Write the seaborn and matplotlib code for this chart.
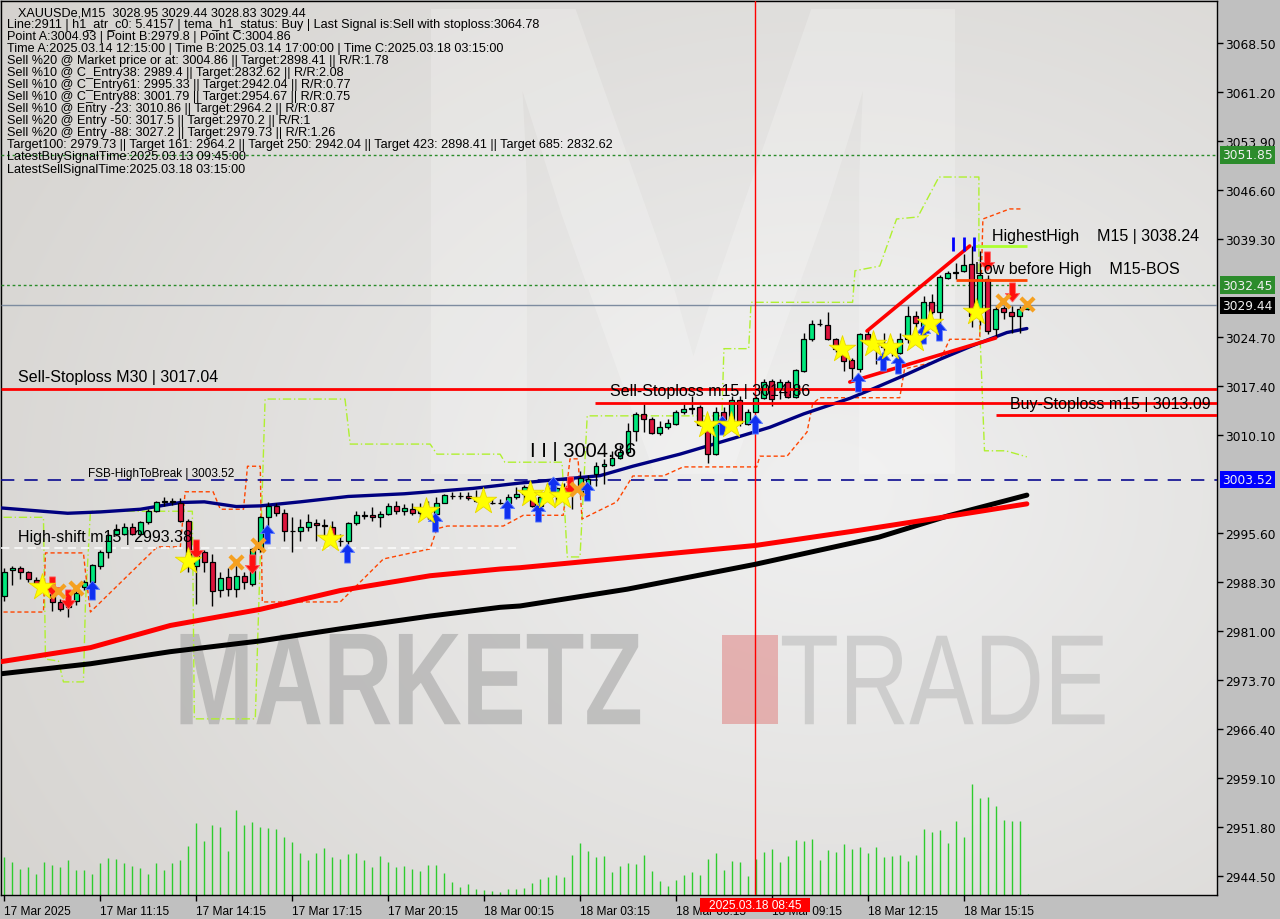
import numpy as np
import matplotlib
matplotlib.use('Agg')
import matplotlib.pyplot as plt
import seaborn as sns
from matplotlib.path import Path
from matplotlib.patches import PathPatch, Rectangle
from matplotlib.textpath import TextPath
from matplotlib.font_manager import FontProperties
from matplotlib.transforms import Affine2D, blended_transform_factory

# ---------------------------
# Candles (XAUUSDe M15), index 0 = 17 Mar 08:15
# ---------------------------
opens = [2986.2, 2990.0, 2990.35, 2989.7, 2988.6, 2987.8, 2986.5, 2985.3, 2984.5, 2985.5,
         2987.5, 2988.3, 2990.7, 2992.7, 2995.4, 2995.4, 2996.5, 2995.4, 2997.2, 2998.9,
         3000.2, 3000.3, 3000.1, 2997.4, 2990.6, 2992.8, 2991.2, 2987.1, 2989.0, 2987.3,
         2989.1, 2987.9, 2993.2, 2997.9, 2999.6, 2998.5, 2995.9, 2995.8, 2996.4, 2997.0,
         2996.7, 2996.4, 2994.4, 2994.4, 2997.0, 2998.1, 2998.2, 2997.9, 2998.4, 2999.6,
         2998.8, 2999.2, 2998.6, 2999.1, 2998.4, 3000.1, 3001.1, 3001.1, 3001.0, 3000.7,
         3000.4, 3000.0, 3000.0, 3000.1, 3000.9, 3001.4, 3000.7, 2999.6, 3001.6, 3001.6,
         3002.1, 3001.5, 3001.6, 3002.5, 3004.3, 3005.6, 3005.7, 3006.8, 3007.6, 3010.8,
         3013.3, 3012.6, 3010.4, 3011.3, 3011.8, 3013.5, 3014.0, 3014.3, 3011.3, 3007.3,
         3013.5, 3012.0, 3015.3, 3011.8, 3013.6, 3015.6, 3018.2, 3017.0, 3018.0, 3015.8,
         3019.7, 3024.4, 3026.7, 3026.5, 3024.4, 3022.2, 3021.3, 3020.0, 3025.2, 3024.0,
         3023.2, 3022.7, 3022.4, 3024.4, 3027.8, 3025.9, 3029.9, 3028.4, 3033.5, 3034.4,
         3034.6, 3035.6, 3028.5, 3033.4, 3025.9, 3029.0, 3028.5, 3027.8, 3028.95]
highs = [2990.3, 2990.7, 2990.6, 2989.95, 2988.96, 2988.2, 2986.7, 2985.7, 2986.0, 2987.2,
         2988.5, 2991.0, 2993.1, 2995.6, 2996.9, 2997.1, 2997.1, 2997.4, 2999.1, 3000.4,
         3000.9, 3000.8, 3000.8, 2997.6, 2993.4, 2993.1, 2992.4, 2989.7, 2990.4, 2990.7,
         2989.7, 2993.4, 2998.1, 3000.2, 3000.1, 2999.2, 2997.9, 2997.6, 2998.4, 2997.6,
         2997.6, 2997.3, 2995.4, 2997.2, 2998.9, 2998.9, 2999.4, 2998.9, 3000.1, 3000.4,
         2999.9, 3000.0, 3000.0, 3000.4, 3000.9, 3001.3, 3001.6, 3001.6, 3001.7, 3001.9,
         3001.0, 3000.6, 3000.6, 3001.4, 3002.4, 3002.7, 3001.5, 3002.0, 3003.0, 3002.6,
         3003.0, 3003.4, 3004.86, 3004.2, 3006.1, 3006.6, 3007.8, 3008.6, 3012.0, 3013.5,
         3014.8, 3012.8, 3012.3, 3012.5, 3013.8, 3014.8, 3016.0, 3014.6, 3013.0, 3014.3,
         3014.3, 3016.0, 3016.0, 3014.0, 3016.0, 3018.5, 3018.5, 3018.5, 3018.3, 3019.9,
         3025.4, 3027.2, 3027.4, 3028.4, 3024.6, 3022.9, 3021.6, 3025.4, 3025.9, 3024.2,
         3025.4, 3024.4, 3025.4, 3029.4, 3028.6, 3030.9, 3031.1, 3034.0, 3034.6, 3035.8,
         3037.1, 3038.24, 3037.5, 3033.9, 3029.4, 3029.4, 3029.4, 3029.3, 3029.44]
lows = [2985.5, 2987.8, 2988.7, 2988.3, 2987.5, 2986.8, 2984.0, 2984.0, 2983.0, 2984.9,
        2987.1, 2987.8, 2990.2, 2991.8, 2995.2, 2995.3, 2995.3, 2995.2, 2996.9, 2998.7,
        2999.6, 2999.8, 2997.2, 2989.7, 2985.0, 2989.7, 2984.7, 2986.0, 2986.2, 2986.0,
        2987.2, 2987.7, 2992.7, 2995.9, 2998.1, 2994.4, 2992.8, 2994.4, 2995.9, 2994.4,
        2994.7, 2994.0, 2993.7, 2993.9, 2996.8, 2997.6, 2997.4, 2996.5, 2998.2, 2998.4,
        2998.2, 2998.2, 2998.0, 2997.6, 2998.2, 3000.0, 3000.6, 3000.6, 3000.5, 3000.2,
        2999.9, 2999.9, 2999.9, 2999.4, 3000.6, 3000.2, 2999.4, 2999.0, 3001.0, 3000.0,
        3000.2, 2999.1, 3001.2, 3000.9, 3002.6, 3002.9, 3005.5, 3006.6, 3007.3, 3009.3,
        3010.6, 3010.3, 3010.1, 3011.0, 3011.6, 3013.3, 3013.3, 3011.5, 3006.0, 3007.1,
        3011.5, 3011.6, 3011.5, 3011.6, 3013.5, 3015.5, 3014.5, 3015.5, 3015.6, 3015.6,
        3019.5, 3024.2, 3026.4, 3024.3, 3022.5, 3019.7, 3018.0, 3019.6, 3023.7, 3020.7,
        3022.4, 3021.9, 3022.2, 3023.9, 3026.2, 3025.7, 3028.1, 3026.2, 3033.3, 3033.4,
        3034.4, 3026.2, 3026.5, 3025.2, 3024.7, 3027.4, 3025.4, 3025.4, 3028.83]
closes = [2989.8, 2990.3, 2989.7, 2988.7, 2987.8, 2987.0, 2985.3, 2984.25, 2985.5, 2986.7,
          2988.3, 2990.8, 2992.7, 2995.3, 2996.2, 2996.5, 2995.4, 2997.2, 2998.9, 3000.2,
          3000.3, 3000.2, 2997.4, 2991.2, 2992.7, 2991.2, 2987.0, 2988.8, 2987.3, 2989.1,
          2988.2, 2993.2, 2997.9, 2999.6, 2998.5, 2995.8, 2995.9, 2996.4, 2997.2, 2996.7,
          2996.6, 2995.0, 2994.4, 2997.0, 2998.2, 2998.2, 2997.9, 2998.4, 2999.6, 2998.8,
          2999.3, 2998.6, 2999.1, 2998.9, 3000.1, 3001.2, 3001.1, 3001.0, 3000.7, 3000.4,
          3000.6, 3000.0, 3000.0, 3000.9, 3001.4, 3002.4, 2999.6, 3000.9, 3002.2, 3002.2,
          3001.1, 3002.0, 3003.8, 3003.6, 3005.6, 3005.9, 3006.8, 3007.6, 3010.8, 3013.3,
          3012.5, 3010.4, 3011.3, 3011.9, 3013.5, 3014.0, 3014.2, 3011.6, 3007.3, 3013.5,
          3012.0, 3015.3, 3012.0, 3013.6, 3015.7, 3018.1, 3015.5, 3018.0, 3015.8, 3019.8,
          3024.4, 3026.7, 3026.6, 3024.4, 3023.0, 3021.2, 3020.1, 3025.2, 3023.9, 3023.2,
          3023.7, 3023.6, 3024.5, 3027.9, 3026.8, 3030.0, 3028.4, 3033.6, 3034.3, 3034.3,
          3035.5, 3027.9, 3034.0, 3025.7, 3028.9, 3028.5, 3027.8, 3028.9, 3029.44]
volumes = [113, 98, 78, 83, 63, 98, 90, 83, 105, 75, 75, 63, 96, 111, 108, 96, 86, 81, 63, 96,
           75, 96, 105, 146, 216, 163, 210, 204, 132, 255, 210, 219, 204, 201, 198, 174, 159, 126,
           105, 126, 141, 114, 108, 123, 126, 105, 84, 117, 99, 84, 87, 78, 72, 90, 90, 66, 39,
           24, 33, 18, 15, 12, 9, 18, 18, 21, 36, 48, 54, 60, 54, 120, 156, 132, 114, 117, 69,
           87, 96, 93, 120, 72, 42, 27, 45, 60, 69, 60, 108, 126, 75, 102, 99, 57, 108, 129, 138,
           99, 117, 165, 162, 168, 105, 135, 129, 153, 138, 144, 126, 144, 114, 117, 120, 102,
           120, 198, 190, 195, 156, 222, 174, 333, 291, 294, 267, 225, 222, 222, 3]

# ---------------------------
# Moving averages (read at sampled bars)
# ---------------------------
ma_blue_x = [-0.5, 7.9, 12, 17, 22, 25, 29, 32, 37, 43, 50, 58.6, 64.5, 70, 74.5, 78.6, 84.5,
             91.6, 95.75, 100, 105.75, 108.6, 112.9, 117, 121, 125.4, 127.9]
ma_blue_y = [2999.3, 2998.5, 2998.7, 2999.1, 3000.1, 3000.2, 2999.5, 2999.6, 3000.2, 3001.0, 3001.4,
             3002.2, 3003.0, 3003.6, 3004.1, 3005.5, 3007.3, 3009.8, 3011.3, 3013.3, 3015.6, 3017.0,
             3019.2, 3021.4, 3023.4, 3025.4, 3026.0]
ma_red_x = [-0.5, 10.75, 20.75, 32, 42, 53.25, 62, 64.5, 93.9, 106, 115.75, 127.9]
ma_red_y = [2976.4, 2978.5, 2981.8, 2984.2, 2987.0, 2989.2, 2990.2, 2990.4, 2993.7, 2995.8, 2997.6, 2999.9]
ma_black_x = [-0.5, 10.75, 20.75, 32, 42, 53.25, 62, 64.5, 77.9, 93.9, 109.4, 118, 127.9]
ma_black_y = [2974.6, 2976.1, 2977.9, 2979.5, 2981.3, 2983.2, 2984.5, 2984.7, 2987.2, 2990.9, 2994.95,
              2998.1, 3001.2]

# stepped bands
band_green_x = [-0.125, 4.875, 5.125, 6.75, 7.375, 9.875, 10.125, 10.75, 23.5, 23.75, 31.375, 32.6,
                42.6, 43.25, 53.25, 54.1, 62, 62.6, 69.75, 70.4, 72, 72.9, 89.75, 90, 93.1, 93.4,
                106.1, 106.4, 109.5, 111.6, 114.25, 116.9, 121.9, 121.9, 122.6, 125.25, 127.9]
band_green_y = [2997.9, 2997.9, 2976.8, 2976.5, 2973.4, 2973.4, 2985.0, 2998.8, 2998.8, 2967.9, 2967.9,
                3015.5, 3015.5, 3008.8, 3008.8, 3007.3, 3007.3, 3006.1, 3006.1, 2992.0, 2992.0, 3013.0,
                3013.0, 3023.0, 3023.0, 3029.9, 3029.9, 3034.6, 3035.3, 3042.3, 3042.6, 3048.55,
                3048.55, 3029.35, 3007.8, 3007.8, 3006.9]
band_orange_x = [-0.125, 4.875, 5.125, 9.875, 10.125, 10.75, 19.1, 22, 22.6, 26.1, 27, 29.9, 30.4, 32,
                 32.25, 42, 47.4, 53.25, 54.1, 55.4, 62.4, 64.9, 69.9, 70.75, 71.75, 72.25, 76.6,
                 78.6, 82.4, 84.9, 94.1, 94.5, 97.9, 100.4, 101.1, 102, 112, 112.6, 117, 118.25,
                 122, 122.4, 125.75, 127.4]
band_orange_y = [2983.8, 2983.8, 2992.6, 2992.6, 2989.8, 2983.8, 2993.5, 2993.5, 3001.7, 3001.7, 2999.1,
                 2999.1, 3005.5, 3005.5, 2985.3, 2985.3, 2991.7, 2993.2, 2996.2, 2996.6, 2996.6,
                 2998.2, 2998.2, 3006.6, 3006.6, 2997.65, 3000.2, 3004.05, 3004.05, 3005.4, 3005.4,
                 3007.0, 3007.0, 3010.6, 3014.8, 3015.7, 3015.7, 3020.0, 3021.2, 3024.4, 3024.4,
                 3042.3, 3043.8, 3043.8]

# signal markers
star_x = [4.75, 22.9, 40.75, 52.75, 59.9, 65.75, 67.9, 69.75, 87.9, 90.9, 104.75, 108.6, 110.75,
          113.9, 115.75, 121.6]
star_y = [2987.5, 2991.4, 2994.7, 2998.8, 3000.3, 3001.4, 3001.1, 3001.1, 3011.6, 3011.6, 3023.0,
          3023.7, 3023.25, 3024.4, 3026.8, 3028.5]
cross_x = [6.75, 8.9, 28.9, 31.75, 71.6, 124.9, 127.9]
cross_y = [2986.9, 2987.4, 2991.2, 2993.8, 3002.1, 3030.1, 3029.65]
sell_arrow_x = [6, 8, 23.9, 31, 70.75, 122.9, 126]
sell_arrow_y = [2987.7, 2985.7, 2993.2, 2990.95, 3002.6, 3036.05, 3031.4]
buy_arrow_x = [10.9, 32.9, 42.9, 53.9, 62.9, 66.75, 68.6, 72.9, 89.75, 93.9, 106.75, 109.9, 111.75,
               114.9, 116.9]
buy_arrow_y = [2987.1, 2995.4, 2992.6, 2997.2, 2999.1, 2998.7, 3002.6, 3001.8, 3011.6, 3011.8, 3018.0,
               3021.2, 3020.7, 3025.2, 3025.6]

# levels
sell_sl_m30 = 3017.04
sell_sl_m15 = 3014.86
buy_sl_m15 = 3013.09
fsb_high = 3003.52
high_shift = 2993.38
highest_high = 3038.24
low_before_high = 3033.27
green_levels = [3051.85, 3032.45]
last_price = 3029.44
wedge_upper_x = [107.9, 120.75]
wedge_upper_y = [3025.63, 3038.28]
wedge_lower_x = [105.75, 124.0]
wedge_lower_y = [3018.04, 3024.59]
hh_marks_x = [118.7, 120.0, 121.3]
marked_bar = 93.9

ytick_vals = [3068.50, 3061.20, 3053.90, 3046.60, 3039.30, 3024.70, 3017.40, 3010.10,
              2995.60, 2988.30, 2981.00, 2973.70, 2966.40, 2959.10, 2951.80, 2944.50]
xtick_pos = [0, 12, 24, 36, 48, 60, 72, 84, 96, 108, 120]
xtick_labels = ['17 Mar 2025', '17 Mar 11:15', '17 Mar 14:15', '17 Mar 17:15', '17 Mar 20:15',
                '18 Mar 00:15', '18 Mar 03:15', '18 Mar 06:15', '18 Mar 09:15', '18 Mar 12:15',
                '18 Mar 15:15']

info_lines = [
    'XAUUSDe,M15  3028.95 3029.44 3028.83 3029.44',
    'Line:2911 | h1_atr_c0: 5.4157 | tema_h1_status: Buy | Last Signal is:Sell with stoploss:3064.78',
    'Point A:3004.93 | Point B:2979.8 | Point C:3004.86',
    'Time A:2025.03.14 12:15:00 | Time B:2025.03.14 17:00:00 | Time C:2025.03.18 03:15:00',
    'Sell %20 @ Market price or at: 3004.86 || Target:2898.41 || R/R:1.78',
    'Sell %10 @ C_Entry38: 2989.4 || Target:2832.62 || R/R:2.08',
    'Sell %10 @ C_Entry61: 2995.33 || Target:2942.04 || R/R:0.77',
    'Sell %10 @ C_Entry88: 3001.79 || Target:2954.67 || R/R:0.75',
    'Sell %10 @ Entry -23: 3010.86 || Target:2964.2 || R/R:0.87',
    'Sell %20 @ Entry -50: 3017.5 || Target:2970.2 || R/R:1',
    'Sell %20 @ Entry -88: 3027.2 || Target:2979.73 || R/R:1.26',
    'Target100: 2979.73 || Target 161: 2964.2 || Target 250: 2942.04 || Target 423: 2898.41 || Target 685: 2832.62',
    'LatestBuySignalTime:2025.03.13 09:45:00',
    'LatestSellSignalTime:2025.03.18 03:15:00',
]

# ---------------------------
# Figure
# ---------------------------
sns.set_theme(style='white')
plt.rcParams['font.family'] = ['Liberation Sans', 'DejaVu Sans']

W, H = 1280, 920
fig = plt.figure(figsize=(12.8, 9.2), dpi=100, facecolor='#c0c0c0')
ax = fig.add_axes([0.5 / W, 24 / H, 1216 / W, 894 / H])
ax.set_facecolor('#dcdad6')

# soft background gradient
gy, gx = np.mgrid[0:1:200j, 0:1:300j]
dist = np.sqrt(((gx - 0.68) / 0.85) ** 2 + ((gy - 0.55) / 0.9) ** 2)
shade = np.clip(1.05 - dist, 0, 1)
dark = np.array([0.83, 0.82, 0.805])
light = np.array([0.935, 0.935, 0.935])
ax.imshow(dark + (light - dark) * shade[..., None], extent=[0, 1, 0, 1], transform=ax.transAxes,
          aspect='auto', zorder=0, interpolation='bilinear')


def add_word(word, box, color, alpha, weight='bold'):
    tp = TextPath((0, 0), word, size=100, prop=FontProperties(family='Liberation Sans', weight=weight))
    ext = tp.get_extents()
    x0, y0, x1, y1 = box
    tr = (Affine2D().translate(-ext.x0, -ext.y0)
          .scale((x1 - x0) / ext.width, (y1 - y0) / ext.height)
          .translate(x0, y0) + ax.transAxes)
    ax.add_patch(PathPatch(tp, transform=tr, fc=color, ec='none', alpha=alpha, zorder=1))


# watermark: faint big M logo and brand text
add_word('M', (0.354, 0.471, 0.785, 0.991), '#ffffff', 0.22)
add_word('MARKETZ', (0.148, 0.191, 0.526, 0.292), '#a0a0a0', 0.55)
ax.add_patch(Rectangle((0.593, 0.191), 0.046, 0.1, transform=ax.transAxes, fc='#e08a8a',
                       ec='none', alpha=0.6, zorder=1))
add_word('TRADE', (0.6426, 0.191, 0.908, 0.290), '#b4b4b4', 0.5, weight='normal')

idx = np.arange(len(closes))
o = np.array(opens)
c = np.array(closes)

# volume bars at the bottom
vol_tr = ax.get_xaxis_transform()
ax.vlines(idx, 0, np.array(volumes) / 2682, transform=vol_tr, color='#2ecc2e', lw=1.0, zorder=2)

# bands
ax.plot(band_green_x, band_green_y, color='#b0f030', lw=1, ls=(0, (6, 2, 1, 2)), zorder=3)
ax.plot(band_orange_x, band_orange_y, color='#ff4500', lw=1, ls=(0, (3, 2)), zorder=3)

# horizontal levels
xl, xr = -0.5, 151.625
for lv in green_levels:
    ax.hlines(lv, xl, xr, color='#2a8c2a', lw=1, ls=(0, (2, 2)), zorder=3)
ax.hlines(last_price, xl, xr, color='#7d8ca0', lw=1, zorder=3)
ax.hlines(fsb_high, xl, xr, color='#0a0a90', lw=1.2, ls=(0, (8, 6)), zorder=3)
ax.hlines(high_shift, xl, 64, color='#fafafa', lw=1.2, ls=(0, (5, 3)), zorder=3)
ax.hlines(sell_sl_m30, xl, xr, color='#ff0000', lw=2, zorder=6)
ax.hlines(sell_sl_m15, 73.9, xr, color='#ff0000', lw=2, zorder=6)
ax.hlines(buy_sl_m15, 124.1, xr, color='#ff0000', lw=2, zorder=6)
ax.hlines(highest_high, 121.4, 127.9, color='#adff2f', lw=2, zorder=6)
ax.hlines(low_before_high, 119.0, 127.9, color='#ff4500', lw=2, zorder=6)
ax.axvline(marked_bar, color='#ff0000', lw=1, zorder=3)

# moving averages
sns.lineplot(x=ma_black_x, y=ma_black_y, color='black', lw=3.6, ax=ax, sort=False, zorder=4)
sns.lineplot(x=ma_red_x, y=ma_red_y, color='#ff0000', lw=3.6, ax=ax, sort=False, zorder=4)
sns.lineplot(x=ma_blue_x, y=ma_blue_y, color='#000080', lw=2.4, ax=ax, sort=False, zorder=4)

# candles
ax.vlines(idx, lows, highs, color='black', lw=1, zorder=5)
body_col = np.where(c >= o, '#00e87c', '#dc143c')
ax.bar(idx, np.abs(c - o), bottom=np.minimum(o, c), width=0.62, color=body_col,
       edgecolor='black', linewidth=0.9, zorder=5)

# wedge lines and marks
ax.plot(wedge_upper_x, wedge_upper_y, color='#ff0000', lw=2.6, zorder=6)
ax.plot(wedge_lower_x, wedge_lower_y, color='#ff0000', lw=2.6, zorder=6)
ax.vlines(hh_marks_x, 3037.5, 3039.6, color='#0000ff', lw=2, zorder=6)

# signals
arrow_up = Path([(0, 1), (-0.75, 0.1), (-0.3, 0.1), (-0.3, -1), (0.3, -1), (0.3, 0.1),
                 (0.75, 0.1), (0, 1)])
arrow_dn = Path([(0, -1), (-0.75, -0.1), (-0.3, -0.1), (-0.3, 1), (0.3, 1), (0.3, -0.1),
                 (0.75, -0.1), (0, -1)])
ax.scatter(buy_arrow_x, buy_arrow_y, marker=arrow_up, s=190, color='#1030f0',
           edgecolor='#6080ff', linewidth=0.6, zorder=7)
ax.scatter(sell_arrow_x, sell_arrow_y, marker=arrow_dn, s=190, color='#ff1010',
           edgecolor='#ff6060', linewidth=0.6, zorder=7)
sns.scatterplot(x=star_x, y=star_y, marker='*', s=400, color='#ffff00', edgecolor='#e8d800',
                linewidth=0.6, ax=ax, zorder=7)
sns.scatterplot(x=cross_x, y=cross_y, marker='x', s=90, color='#f5a020', linewidth=3,
                ax=ax, zorder=7)

# chart labels
lab = dict(fontsize=11.5, color='black', zorder=8, va='center', ha='left')
ax.text(1.75, 3018.8, 'Sell-Stoploss M30 | 3017.04', **lab)
ax.text(75.75, 3016.7, 'Sell-Stoploss m15 | 3014.86', **lab)
ax.text(125.75, 3014.9, 'Buy-Stoploss m15 | 3013.09', **lab)
ax.text(1.75, 2995.1, 'High-shift m15 | 2993.38', **lab)
ax.text(123.5, 3039.9, 'HighestHigh    M15 | 3038.24', **lab)
ax.text(121.4, 3035.0, 'Low before High    M15-BOS', **lab)
ax.text(65.75, 3007.8, 'I I | 3004.86', fontsize=14.5, color='black', zorder=8, va='center')
ax.text(10.5, 3004.5, 'FSB-HighToBreak | 3003.52', fontsize=8.5, color='black', zorder=8,
        va='center')

# axes
ax.set_xlim(xl, xr)
ax.set_ylim(2941.68, 3074.75)
ax.yaxis.tick_right()
ax.set_yticks(ytick_vals)
ax.set_yticklabels([f'{v:.2f}' for v in ytick_vals])
ax.set_xticks(xtick_pos)
ax.set_xticklabels(xtick_labels, ha='left')
ax.tick_params(axis='y', which='both', right=True, left=False, length=4, width=1, pad=2,
               labelsize=8.8, colors='black', direction='out')
ax.tick_params(axis='x', bottom=True, length=4, width=1, pad=3, labelsize=8.6, colors='black',
               direction='out')
for t in ax.get_yticklabels():
    t.set_family('DejaVu Sans')
for sp in ax.spines.values():
    sp.set_color('black')
    sp.set_linewidth(1)
ax.grid(False)

# price boxes on the right scale
tr_price = blended_transform_factory(ax.transAxes, ax.transData)
for val, fc in [(3051.85, '#2c8c2c'), (3032.45, '#2c8c2c'), (last_price, 'black'),
                (fsb_high, '#0000ff')]:
    ax.text(1.0045, val, f'{val:.2f}', transform=tr_price, ha='left', va='center', fontsize=8.8,
            family='DejaVu Sans', color='#f0f0f0',
            bbox=dict(boxstyle='square,pad=0.18', fc=fc, ec='none'), clip_on=False, zorder=10)

# marked bar time box (covers part of the neighbouring time labels, as on the terminal)
fig.patches.append(Rectangle((700 / W, 7 / H), 110 / W, 14 / H, transform=fig.transFigure,
                             fc='#ff0000', ec='none', zorder=5))
fig.text(755 / W, 14 / H, '2025.03.18 08:45', ha='center', va='center', fontsize=8.6,
         color='white', zorder=6)

# info text block
for i, line in enumerate(info_lines):
    x0 = 18 if i == 0 else 7
    fig.text(x0 / W, 1 - (13 + 12.04 * i) / H, line, ha='left', va='center', fontsize=9.1,
             color='black', zorder=6)

fig.savefig('out.png', dpi=100, facecolor=fig.get_facecolor())
